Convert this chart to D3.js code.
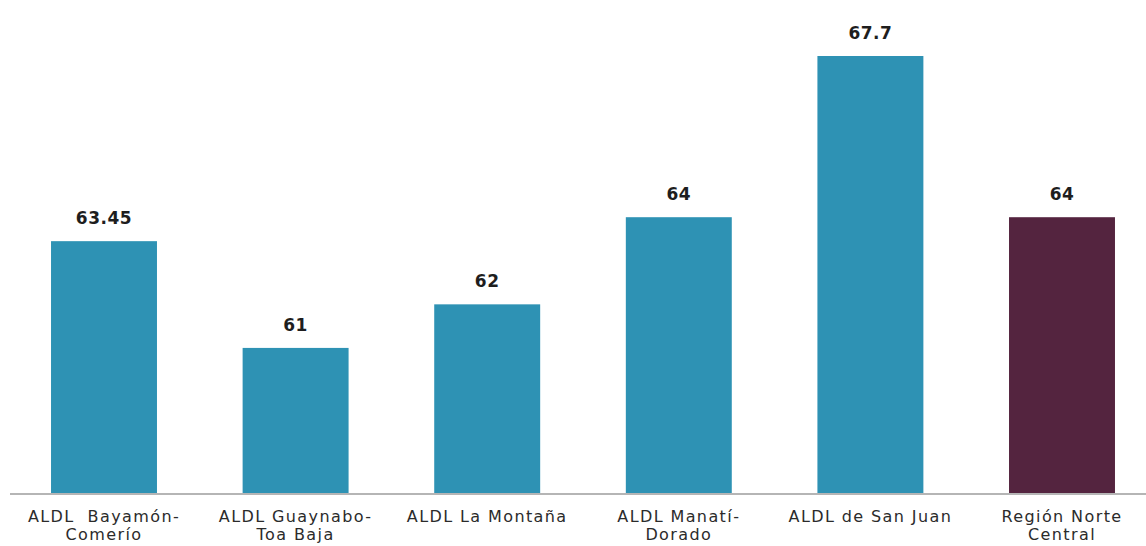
<!DOCTYPE html>
<html>
<head>
<meta charset="utf-8">
<script src="https://cdn.jsdelivr.net/npm/d3@7"></script>
<style>
  html, body { margin: 0; padding: 0; background: #ffffff; }
  svg { display: block; }
  .cat-label { white-space: pre; }
</style>
</head>
<body>
<svg id="chart" width="1146" height="546"></svg>
<script>
// Chart data
const categories = [
  "ALDL  Bayamón-\nComerío",
  "ALDL Guaynabo-\nToa Baja",
  "ALDL La Montaña",
  "ALDL Manatí-\nDorado",
  "ALDL de San Juan",
  "Región Norte\nCentral"
];
const values = [63.45, 61, 62, 64, 67.7, 64];
const valueLabels = ["63.45", "61", "62", "64", "67.7", "64"];
const barColors = ["#2e92b4", "#2e92b4", "#2e92b4", "#2e92b4", "#2e92b4", "#54243f"];

const width = 1146, height = 546;
const baseline = 493;

const svg = d3.select("#chart");

const x = d3.scaleBand()
  .domain(categories)
  .range([8.2, 1157.8])
  .paddingInner(0.447)
  .paddingOuter(0.2235);

const y = d3.scaleLinear()
  .domain([57.67, 67.7])
  .range([baseline, 56]);

// Bars
svg.append("g")
  .selectAll("rect")
  .data(values)
  .join("rect")
  .attr("x", (d, i) => x(categories[i]))
  .attr("y", d => y(d))
  .attr("width", x.bandwidth())
  .attr("height", d => baseline - y(d))
  .attr("fill", (d, i) => barColors[i]);

// Value labels above bars
svg.append("g")
  .selectAll("text")
  .data(values)
  .join("text")
  .attr("x", (d, i) => x(categories[i]) + x.bandwidth() / 2)
  .attr("y", d => y(d) - 17)
  .attr("text-anchor", "middle")
  .attr("font-family", "'DejaVu Sans', sans-serif")
  .attr("font-weight", "bold")
  .attr("font-size", 17)
  .attr("letter-spacing", 0.5)
  .attr("fill", "#1e1e1e")
  .text((d, i) => valueLabels[i]);

// Category axis
const axis = d3.axisBottom(x).tickSize(0).tickFormat("");
const axisG = svg.append("g")
  .attr("transform", `translate(0,${baseline})`)
  .call(axis);
axisG.select(".domain").remove();

svg.append("line")
  .attr("x1", 10).attr("x2", width)
  .attr("y1", baseline + 1).attr("y2", baseline + 1)
  .attr("stroke", "#b5b5b5")
  .attr("stroke-width", 2);

axisG.selectAll(".tick").each(function(d) {
  const lines = d.split("\n");
  const t = d3.select(this).append("text")
    .attr("class", "cat-label")
    .attr("text-anchor", "middle")
    .attr("font-family", "'DejaVu Sans', sans-serif")
    .attr("font-size", 16)
    .attr("letter-spacing", 1.4)
    .attr("fill", "#2b2b2b")
    .attr("y", 29);
  lines.forEach((ln, i) => {
    t.append("tspan")
      .attr("x", 0)
      .attr("dy", i === 0 ? 0 : 18)
      .text(ln);
  });
});
</script>
</body>
</html>
